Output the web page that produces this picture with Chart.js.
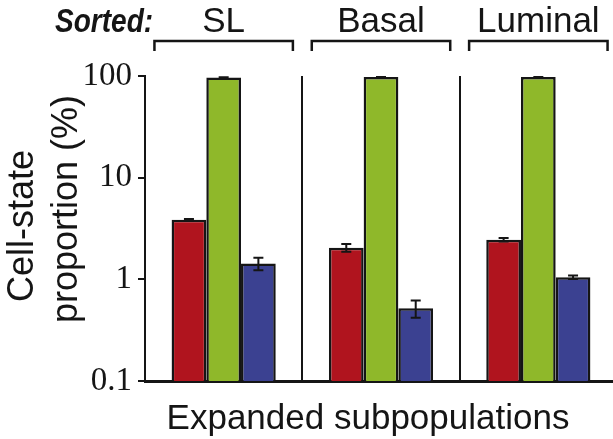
<!DOCTYPE html>
<html>
<head>
<meta charset="utf-8">
<script src="https://cdn.jsdelivr.net/npm/chart.js@4.4.1/dist/chart.umd.min.js"></script>
<style>
    html, body { margin: 0; padding: 0; background: #fff; overflow: hidden; }
    #chart { display: block; }
</style>
</head>
<body>
<canvas id="chart" width="620" height="439"></canvas>
<script>
// Sorted subpopulations (x categories)
var sortedGroups = ['SL', 'Basal', 'Luminal'];

// Cell-state proportions (%) after expansion, one array per state
var slStateValues = [3.85, 2.05, 2.45];
var basalStateValues = [96.5, 97.5, 97.5];
var luminalStateValues = [1.43, 0.52, 1.05];

// Error bar half-lengths (%)
var slStateErrors = [0.08, 0.18, 0.1];
var basalStateErrors = [0.5, 0.5, 0.5];
var luminalStateErrors = [0.2, 0.1, 0.04];

// Y axis ticks
var yTickValues = [0.1, 1, 10, 100];
var yTickLabels = ['0.1', '1', '10', '100'];

var INK = '#151515';

/**
 * Draws error bars on top of each bar
 */
var errorBarsPlugin = {
    id: 'errorBars',
    afterDatasetsDraw: function(chart) {
        var ctx = chart.ctx;
        var yScale = chart.scales.y;
        ctx.save();
        ctx.strokeStyle = INK;
        ctx.lineWidth = 2;
        chart.data.datasets.forEach(function(ds, i) {
            var meta = chart.getDatasetMeta(i);
            meta.data.forEach(function(bar, j) {
                var v = ds.data[j];
                var e = ds.errors[j];
                var yTop = yScale.getPixelForValue(v + e);
                var yBot = yScale.getPixelForValue(v - e);
                ctx.beginPath();
                ctx.moveTo(bar.x, yTop);
                ctx.lineTo(bar.x, yBot);
                ctx.moveTo(bar.x - 5, yTop);
                ctx.lineTo(bar.x + 5, yTop);
                ctx.moveTo(bar.x - 5, yBot);
                ctx.lineTo(bar.x + 5, yBot);
                ctx.stroke();
            });
        });
        ctx.restore();
    }
};

/**
 * Draws the "Sorted:" header with bracketed group labels and axis titles
 */
var decorationsPlugin = {
    id: 'decorations',
    afterDraw: function(chart) {
        var ctx = chart.ctx;
        var xScale = chart.scales.x;
        var catWidth = (chart.chartArea.right - chart.chartArea.left) / sortedGroups.length;
        var half = catWidth * 0.44;

        ctx.save();
        ctx.fillStyle = INK;
        ctx.strokeStyle = INK;

        // "Sorted:" (condensed bold italic)
        ctx.save();
        ctx.translate(55, 32);
        ctx.scale(0.85, 1);
        ctx.font = 'italic bold 33px "Liberation Sans", Arial, sans-serif';
        ctx.textAlign = 'left';
        ctx.textBaseline = 'alphabetic';
        ctx.fillText('Sorted:', 0, 0);
        ctx.restore();

        // group labels and brackets
        ctx.font = '35px "Liberation Sans", Arial, sans-serif';
        ctx.textAlign = 'center';
        ctx.textBaseline = 'alphabetic';
        ctx.lineWidth = 2.5;
        sortedGroups.forEach(function(label, i) {
            var cx = xScale.getPixelForValue(i);
            ctx.fillText(label, cx, 32);
            ctx.beginPath();
            ctx.moveTo(cx - half, 51);
            ctx.lineTo(cx - half, 41);
            ctx.lineTo(cx + half, 41);
            ctx.lineTo(cx + half, 51);
            ctx.stroke();
        });

        // x title
        ctx.font = '35px "Liberation Sans", Arial, sans-serif';
        ctx.textAlign = 'center';
        ctx.fillText('Expanded subpopulations', 368, 429);

        // y title, two rotated lines
        ctx.font = '36px "Liberation Sans", Arial, sans-serif';
        ctx.textAlign = 'left';
        [['Cell-state', 33, 302], ['proportion (%)', 77, 323]].forEach(function(item) {
            ctx.save();
            ctx.translate(item[1], item[2]);
            ctx.rotate(-Math.PI / 2);
            ctx.fillText(item[0], 0, 0);
            ctx.restore();
        });

        ctx.restore();
    }
};

var canvas = document.getElementById('chart');
new Chart(canvas.getContext('2d'), {
    type: 'bar',
    data: {
        labels: sortedGroups,
        datasets: [{
            label: 'SL',
            data: slStateValues,
            errors: slStateErrors,
            backgroundColor: '#b0141e'
        }, {
            label: 'Basal',
            data: basalStateValues,
            errors: basalStateErrors,
            backgroundColor: '#8fb82a'
        }, {
            label: 'Luminal',
            data: luminalStateValues,
            errors: luminalStateErrors,
            backgroundColor: '#3b4191'
        }]
    },
    options: {
        responsive: false,
        animation: false,
        layout: {
            padding: { top: 76, right: 3, left: 0, bottom: 0 }
        },
        datasets: {
            bar: {
                categoryPercentage: 0.662,
                barPercentage: 1.0,
                borderColor: INK,
                borderWidth: 2.5
            }
        },
        plugins: {
            legend: { display: false },
            tooltip: { enabled: false }
        },
        scales: {
            x: {
                type: 'category',
                offset: true,
                ticks: { display: false },
                grid: {
                    offset: true,
                    drawTicks: false,
                    color: INK,
                    lineWidth: 2
                },
                border: { color: INK, width: 3 },
                afterFit: function(scale) {
                    scale.height = 58;
                }
            },
            y: {
                type: 'logarithmic',
                min: 0.1,
                max: 100,
                afterBuildTicks: function(scale) {
                    scale.ticks = yTickValues.map(function(v) { return { value: v }; });
                },
                ticks: {
                    callback: function(value, index) {
                        return yTickLabels[index];
                    },
                    font: { family: '"Liberation Serif", "Times New Roman", serif', size: 33 },
                    color: INK,
                    padding: 6,
                    autoSkip: false
                },
                grid: {
                    drawOnChartArea: false,
                    drawTicks: true,
                    tickLength: 7,
                    color: INK,
                    lineWidth: 2
                },
                border: { color: INK, width: 2 },
                afterFit: function(scale) {
                    scale.width = 145;
                }
            }
        }
    },
    plugins: [errorBarsPlugin, decorationsPlugin]
});
</script>
</body>
</html>
